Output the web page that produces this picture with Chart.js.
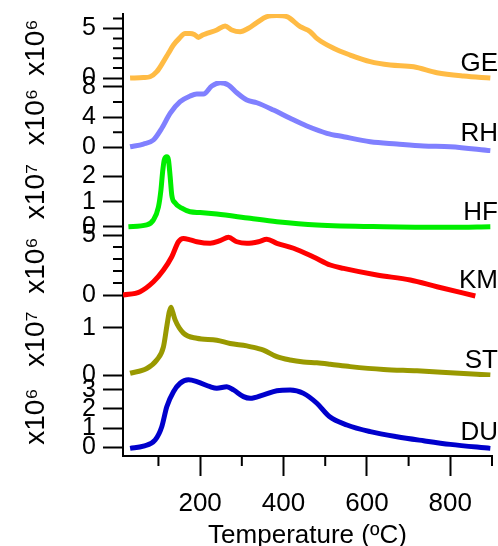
<!DOCTYPE html>
<html>
<head>
<meta charset="utf-8">
<script src="https://cdn.jsdelivr.net/npm/chart.js@4.4.1/dist/chart.umd.min.js"></script>
<style>
  html, body { margin: 0; padding: 0; background: #fff; }
  canvas { display: block; }
</style>
</head>
<body>
<canvas id="myChart" width="498" height="546"></canvas>
<script>
// temperature (ºC) and signal for each sample
const tGE = [32, 64, 80, 96, 112, 124, 136, 150, 164, 176, 186, 196, 206, 216, 240, 260, 276, 296, 316, 336, 360, 384, 408, 440, 464, 480, 520, 560, 608, 656, 712, 768, 832, 896];
const vGE = [0, 0.05, 0.13, 0.64, 1.65, 2.5, 3.33, 4.0, 4.5, 4.5, 4.4, 4.1, 4.34, 4.5, 4.85, 5.25, 4.85, 4.68, 5.02, 5.59, 6.19, 6.31, 6.19, 5.18, 4.68, 4.0, 3.0, 2.32, 1.65, 1.31, 1.14, 0.54, 0.2, 0.0];

const tRH = [32, 64, 88, 108, 128, 152, 176, 192, 208, 228, 248, 268, 288, 312, 336, 376, 416, 456, 504, 544, 608, 672, 736, 800, 896];
const vRH = [0.1, 0.46, 0.99, 2.53, 4.5, 6.03, 6.78, 7.04, 7.04, 8.09, 8.53, 8.22, 7.21, 6.25, 5.89, 4.93, 3.84, 2.83, 1.87, 1.42, 0.76, 0.46, 0.2, 0.1, -0.42];

const tHF = [28, 72, 88, 100, 106, 110, 114, 120, 124, 128, 132, 140, 156, 176, 200, 240, 320, 384, 480, 640, 800, 896];
const vHF = [0.01, 0.08, 0.28, 0.79, 1.46, 2.17, 2.65, 2.77, 2.65, 2.0, 1.26, 0.95, 0.74, 0.6, 0.57, 0.51, 0.34, 0.21, 0.08, 0.01, -0.01, 0.01];

const tKM = [15, 56, 88, 112, 132, 148, 160, 176, 192, 224, 248, 268, 288, 312, 340, 360, 384, 424, 472, 512, 544, 624, 704, 768, 860];
const vKM = [0, 0.28, 1.1, 2.08, 3.19, 4.44, 4.72, 4.6, 4.44, 4.31, 4.53, 4.81, 4.44, 4.31, 4.44, 4.64, 4.31, 3.9, 3.17, 2.5, 2.22, 1.67, 1.25, 0.69, -0.08];

const tST = [32, 72, 96, 112, 120, 126, 130, 134, 140, 160, 192, 240, 272, 312, 336, 352, 384, 416, 448, 480, 512, 560, 640, 720, 800, 896];
const vST = [0.04, 0.14, 0.32, 0.6, 1.03, 1.34, 1.44, 1.34, 1.17, 0.89, 0.78, 0.74, 0.67, 0.62, 0.57, 0.53, 0.39, 0.32, 0.28, 0.26, 0.23, 0.18, 0.12, 0.09, 0.05, 0.0];

const tDU = [32, 64, 92, 108, 120, 136, 152, 172, 192, 224, 240, 264, 280, 304, 320, 352, 384, 416, 448, 480, 510, 552, 608, 672, 736, 800, 896];
const vDU = [-0.07, 0.05, 0.37, 1.07, 2.12, 2.91, 3.35, 3.53, 3.44, 3.17, 3.09, 3.17, 3.0, 2.65, 2.56, 2.74, 2.96, 3.0, 2.82, 2.3, 1.6, 1.16, 0.81, 0.54, 0.33, 0.14, -0.07];

// tick values
const xTicks = [200, 400, 600, 800];
const xMinor = [100, 300, 500, 700, 900];
const ticksGE = [0, 5], minorGE = [1, 2, 3, 4, 6];
const ticksRH = [0, 4, 8], minorRH = [2, 6];
const ticksHF = [0, 1, 2];
const ticksKM = [0, 5], minorKM = [1, 2, 3, 4];
const ticksST = [0, 1];
const ticksDU = [0, 1, 2, 3];

const black = '#000';
Chart.defaults.font.family = '"Liberation Sans", Arial, sans-serif';
Chart.defaults.color = black;

const pts = (ts, vs) => ts.map((t, i) => ({x: t, y: vs[i]}));

// one panel = one stacked y axis
function panelAxis(min, max, ticks, weight, order, exp) {
    return {
        type: 'linear',
        position: 'left',
        stack: 'panels',
        stackWeight: weight,
        weight: order,
        min: min,
        max: max,
        afterBuildTicks: s => { s.ticks = ticks.map(v => ({value: v})); },
        afterFit: s => { s.width = 123; s.paddingTop = 0; s.paddingBottom = 0; },
        grid: { drawOnChartArea: false, tickLength: 20, tickColor: black, tickWidth: 2 },
        border: { color: black, width: 2 },
        ticks: { color: black, font: { size: 25 }, padding: 7, autoSkip: false },
        title: { display: true, text: exp, color: black, font: { size: 28 }, padding: { top: 19, bottom: 0 } }
    };
}

const panels = [
    { id: 'yGE', name: 'GE', minor: minorGE },
    { id: 'yRH', name: 'RH', minor: minorRH },
    { id: 'yHF', name: 'HF', minor: [] },
    { id: 'yKM', name: 'KM', minor: minorKM },
    { id: 'yST', name: 'ST', minor: [] },
    { id: 'yDU', name: 'DU', minor: [] }
];

// minor ticks and the sample names on the right
const extras = {
    id: 'extras',
    afterDraw(chart) {
        const ctx = chart.ctx;
        ctx.save();
        ctx.strokeStyle = black;
        ctx.lineWidth = 2;
        ctx.beginPath();
        panels.forEach(p => {
            const s = chart.scales[p.id];
            p.minor.forEach(v => {
                const y = s.getPixelForValue(v);
                ctx.moveTo(s.right - 10, y);
                ctx.lineTo(s.right, y);
            });
        });
        const xs = chart.scales.x;
        xMinor.forEach(v => {
            const x = xs.getPixelForValue(v);
            ctx.moveTo(x, xs.top);
            ctx.lineTo(x, xs.top + 10);
        });
        ctx.stroke();

        ctx.fillStyle = black;
        ctx.font = '26px "Liberation Sans", Arial, sans-serif';
        ctx.textAlign = 'right';
        ctx.textBaseline = 'alphabetic';
        panels.forEach(p => {
            const s = chart.scales[p.id];
            ctx.fillText(p.name, chart.chartArea.right + 6, s.getPixelForValue(0) - 7);
        });
        ctx.restore();
    }
};

function line(label, ts, vs, color, axis) {
    return {
        label: label,
        data: pts(ts, vs),
        yAxisID: axis,
        xAxisID: 'x',
        borderColor: color,
        borderWidth: 5,
        pointRadius: 0,
        cubicInterpolationMode: 'monotone',
        fill: false
    };
}

new Chart(document.getElementById('myChart'), {
    type: 'line',
    data: {
        datasets: [
            line('GE', tGE, vGE, '#FFBB44', 'yGE'),
            line('RH', tRH, vRH, '#8080FF', 'yRH'),
            line('HF', tHF, vHF, '#00EE00', 'yHF'),
            line('KM', tKM, vKM, '#FF0000', 'yKM'),
            line('ST', tST, vST, '#999900', 'yST'),
            line('DU', tDU, vDU, '#0000CC', 'yDU')
        ]
    },
    options: {
        responsive: false,
        animation: false,
        layout: { padding: { top: 14, right: 6, left: 0, bottom: 0 } },
        plugins: {
            legend: { display: false },
            tooltip: { enabled: false }
        },
        scales: {
            x: {
                type: 'linear',
                min: 15,
                max: 900,
                afterBuildTicks: s => { s.ticks = xTicks.map(v => ({value: v})); },
                afterFit: s => { s.height = 90; },
                grid: { drawOnChartArea: false, tickLength: 20, tickColor: black, tickWidth: 2 },
                border: { color: black, width: 2 },
                ticks: { color: black, font: { size: 26 }, padding: 12, maxRotation: 0, autoSkip: false },
                title: { display: true, text: 'Temperature (ºC)', color: black, font: { size: 26, lineHeight: 0.75 }, padding: { top: 0, bottom: 0 } }
            },
            yGE: panelAxis(-0.3, 6.46, ticksGE, 67, 6, 'x10\u2076'),
            yRH: panelAxis(-0.72, 8.75, ticksRH, 72, 5, 'x10\u2076'),
            yHF: panelAxis(-0.12, 2.92, ticksHF, 77, 4, 'x10\u2077'),
            yKM: panelAxis(-0.5, 5.42, ticksKM, 71, 3, 'x10\u2076'),
            yST: panelAxis(-0.04, 1.57, ticksST, 76, 2, 'x10\u2077'),
            yDU: panelAxis(-0.47, 3.68, ticksDU, 79, 1, 'x10\u2076')
        }
    },
    plugins: [extras]
});
</script>
</body>
</html>
